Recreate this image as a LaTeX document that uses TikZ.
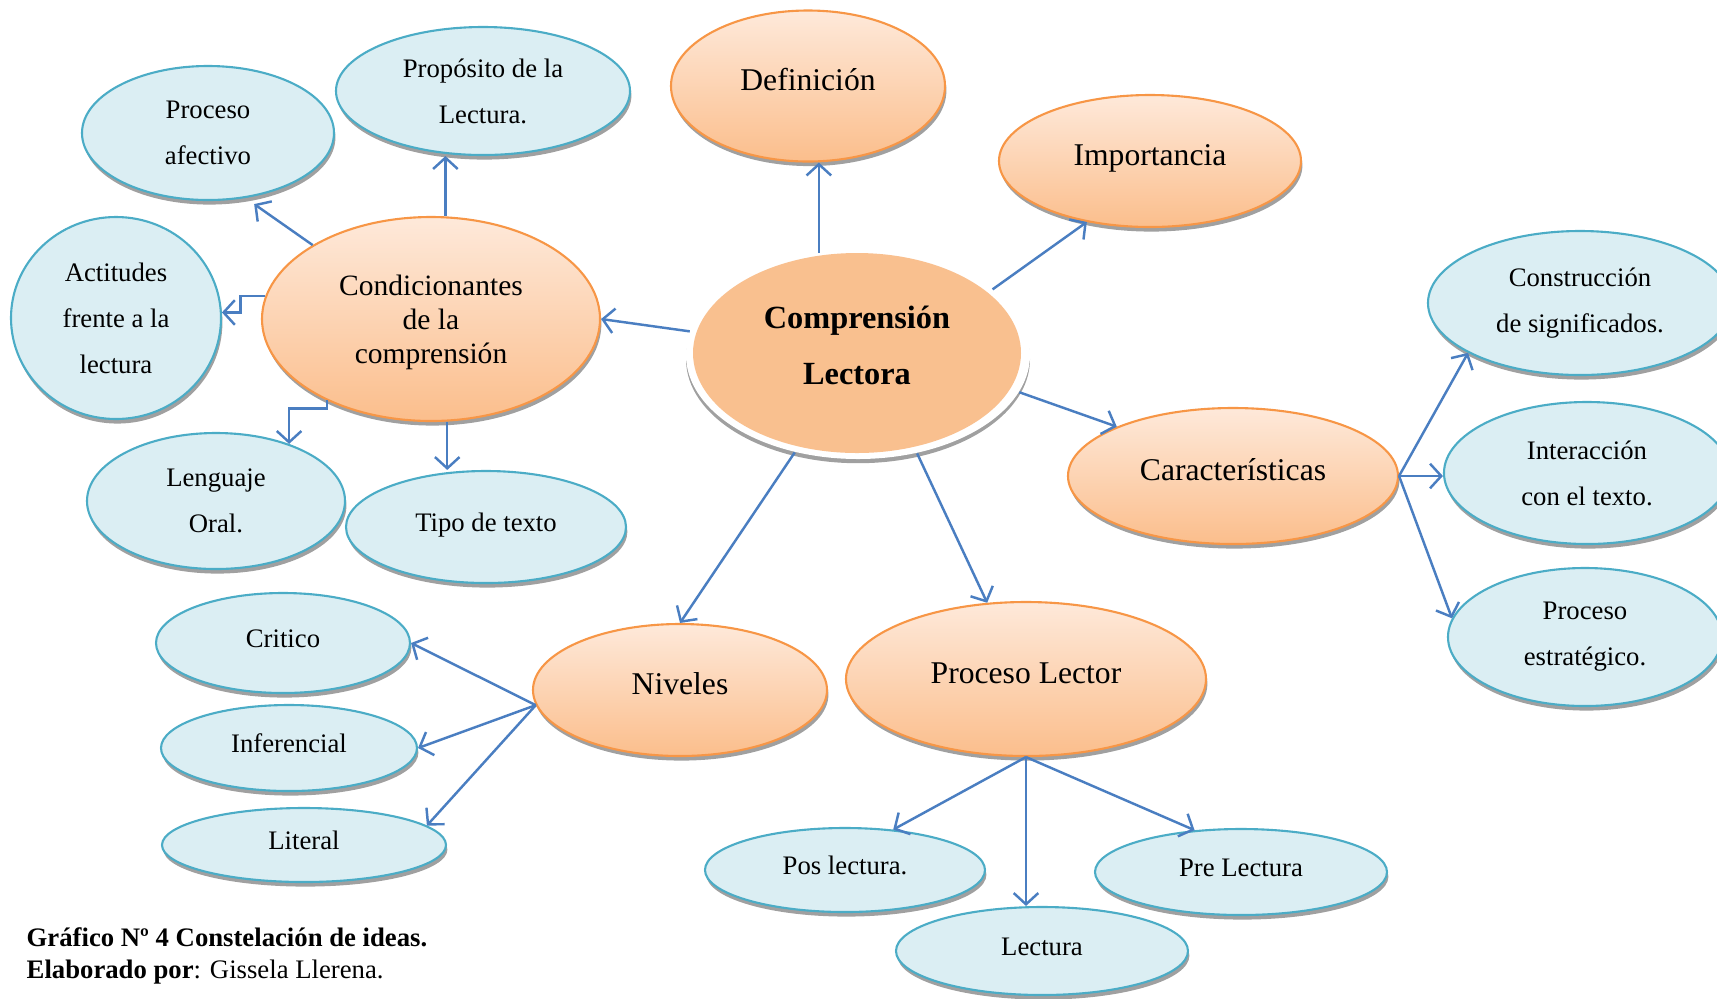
\documentclass[tikz,border=0pt]{standalone}
\usepackage{fontspec}
\setmainfont{Liberation Serif}
\usetikzlibrary{shapes.geometric,shadows,arrows.meta}
\definecolor{lineblue}{RGB}{74,126,193}
\definecolor{orangeline}{RGB}{247,150,70}
\definecolor{orangetop}{RGB}{254,233,218}
\definecolor{orangebot}{RGB}{251,190,140}
\definecolor{coreorange}{RGB}{249,192,143}
\definecolor{leaffill}{RGB}{219,238,243}
\definecolor{leafline}{RGB}{75,172,198}
\definecolor{shade}{RGB}{160,160,160}

\begin{document}
\begin{tikzpicture}[>={Straight Barb[length=3.2pt,width=7pt]}]
\tikzstyle{topic}=[ellipse,draw=orangeline,line width=0.6pt,top color=orangetop,bottom color=orangebot,inner sep=0pt,drop shadow={shadow xshift=0.4pt,shadow yshift=-1.3pt,fill=shade,opacity=1},font=\fontsize{9}{9.7}\selectfont,align=center]
\tikzstyle{leaf}=[ellipse,draw=leafline,line width=0.6pt,fill=leaffill,inner sep=0pt,drop shadow={shadow xshift=0.4pt,shadow yshift=-1.3pt,fill=shade,opacity=1},font=\fontsize{7.6}{13.1}\selectfont,align=center]
\tikzstyle{single}=[text height=6.5pt,text depth=4pt]
\tikzstyle{singleleaf}=[text height=5.5pt,text depth=2.7pt]
\tikzstyle{link}=[->,draw=lineblue,line width=0.7pt]
\useasboundingbox (0,0) rectangle (17.17,-9.98);

 % centre
 \node[ellipse,fill=white,minimum width=3.44cm,minimum height=2.08cm,inner sep=0pt,drop shadow={shadow xshift=0pt,shadow yshift=-1.2pt,fill=shade,opacity=1}] (ring) at (8.58,-3.55) {};
 \node[ellipse,fill=coreorange,minimum width=3.28cm,minimum height=2.00cm,inner sep=0pt,align=center,font=\bfseries\fontsize{9.2}{15.9}\selectfont,text depth=4.6pt] (cl) at (8.57,-3.53) {Comprensión\\Lectora};

 % main topics
 \node[topic,single,minimum width=2.74cm,minimum height=1.51cm] (def) at (8.08,-0.86) {Definición};
 \node[topic,single,minimum width=3.02cm,minimum height=1.32cm] (imp) at (11.50,-1.61) {Importancia};
 \node[topic,font=\fontsize{8.4}{9.7}\selectfont,text depth=0pt,minimum width=3.38cm,minimum height=2.04cm] (cond) at (4.31,-3.19) {Condicionantes\\de la\\comprensión};
 \node[topic,single,minimum width=3.30cm,minimum height=1.36cm] (car) at (12.33,-4.76) {Características};
 \node[topic,single,minimum width=2.94cm,minimum height=1.32cm] (niv) at (6.80,-6.90) {Niveles};
 \node[topic,single,minimum width=3.60cm,minimum height=1.54cm] (pl) at (10.26,-6.79) {Proceso Lector};

 % condicionantes
 \node[leaf,minimum width=2.52cm,minimum height=1.34cm] (pa) at (2.08,-1.33) {Proceso\\afectivo};
 \node[leaf,minimum width=2.94cm,minimum height=1.28cm] (prop) at (4.83,-0.91) {Propósito de la\\Lectura.};
 \node[leaf,minimum width=2.10cm,minimum height=2.02cm] (act) at (1.16,-3.18) {Actitudes\\frente a la\\lectura};
 \node[leaf,minimum width=2.58cm,minimum height=1.36cm] (leng) at (2.16,-5.01) {Lenguaje\\Oral.};
 \node[leaf,singleleaf,minimum width=2.80cm,minimum height=1.12cm] (tipo) at (4.86,-5.27) {Tipo de texto};

 % caracteristicas
 \node[leaf,minimum width=3.04cm,minimum height=1.44cm] (cons) at (15.80,-3.03) {Construcción\\de significados.};
 \node[leaf,minimum width=2.86cm,minimum height=1.42cm] (inter) at (15.87,-4.73) {Interacción\\con el texto.};
 \node[leaf,minimum width=2.74cm,minimum height=1.38cm] (estr) at (15.85,-6.37) {Proceso\\estratégico.};

 % niveles
 \node[leaf,singleleaf,minimum width=2.54cm,minimum height=1.00cm] (crit) at (2.83,-6.43) {Critico};
 \node[leaf,singleleaf,minimum width=2.56cm,minimum height=0.86cm] (inf) at (2.89,-7.48) {Inferencial};
 \node[leaf,singleleaf,minimum width=2.84cm,minimum height=0.74cm] (lit) at (3.04,-8.45) {Literal};

 % proceso lector
 \node[leaf,singleleaf,minimum width=2.80cm,minimum height=0.84cm] (pos) at (8.45,-8.70) {Pos lectura.};
 \node[leaf,singleleaf,minimum width=2.92cm,minimum height=0.86cm] (pre) at (12.41,-8.72) {Pre Lectura};
 \node[leaf,singleleaf,minimum width=2.92cm,minimum height=0.88cm] (lec) at (10.42,-9.51) {Lectura};

 \draw[link] (ring.111) -- (ring.111 |- def.south);
 \draw[link] (ring.26) -- (imp.224);
 \draw[link] (ring.172) -- (cond.east);
 \draw[link] (ring.347) -- (car.157);
 \draw[link] (ring.237) -- (niv.north);
 \draw[link] (ring.301) -- (pl.117);

 \draw[link] (cond.82) -- (cond.82 |- prop.south);
 \draw[link,shorten >=3pt] (cond.148) -- (pa.300);
 \draw[link] (cond.172) -- ++(-0.25,0) |- (act.3);
 \draw[link] (cond.218) -- ++(0,-0.08) -| (leng.38);
 \draw[link] (cond.279) -- (cond.279 |- tipo.north);

 \draw[link] (car.east) -- (cons.204);
 \draw[link] (car.east) -- (car.east -| inter.west);
 \draw[link] (car.east) -- (estr.172);

 \draw[link] (niv.186) -- (crit.east);
 \draw[link] (niv.186) -- (inf.east);
 \draw[link] (niv.186) -- (lit.9);

 \draw[link] (pl.south) -- (pos.40);
 \draw[link] (pl.south) -- (pl.south |- lec.north);
 \draw[link] (pl.south) -- (pre.138);

 %\node (note) ...
 \node[anchor=base west,inner sep=0pt,font=\bfseries\fontsize{7.6}{9}\selectfont] (cap) at (0.26,-9.46) {Gráfico Nº 4 Constelación de ideas.};
 \node[anchor=base west,inner sep=0pt,font=\fontsize{7.6}{9}\selectfont] (author) at (0.26,-9.78) {\textbf{Elaborado por}: Gissela Llerena.};

\end{tikzpicture}
\end{document}
